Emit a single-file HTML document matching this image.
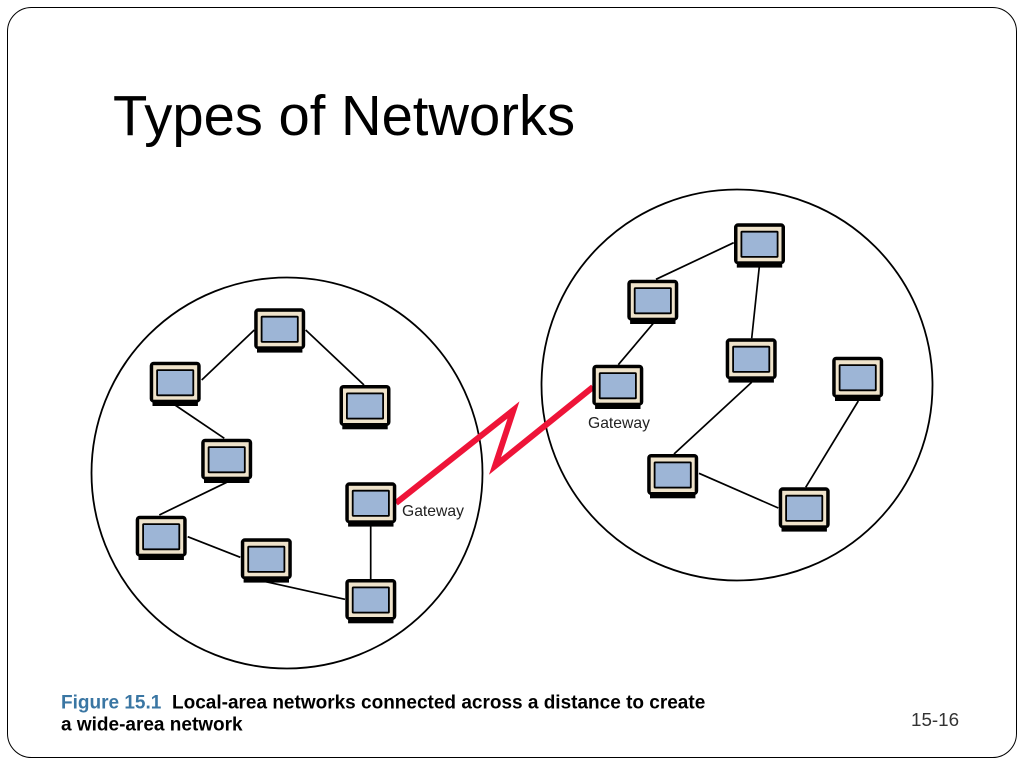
<!DOCTYPE html>
<html>
<head>
<meta charset="utf-8">
<style>
html,body{margin:0;padding:0;background:#fff}
body{width:1024px;height:768px;overflow:hidden}
svg{display:block}
text{font-family:"Liberation Sans",sans-serif}
</style>
</head>
<body>
<svg width="1024" height="768" viewBox="0 0 1024 768" xmlns="http://www.w3.org/2000/svg">
<defs>
<g id="pc">
<rect x="-22.7" y="14" width="45.4" height="9.3" fill="#000"/>
<rect x="-25.5" y="-21" width="51" height="41" rx="4" fill="#000"/>
<rect x="-22" y="-17.5" width="44" height="34.5" fill="#efe3cb"/>
<rect x="-19" y="-13.5" width="38" height="27" rx="1.5" fill="#000"/>
<rect x="-17.2" y="-11.7" width="34.4" height="23.4" fill="#9db5d6"/>
</g>
</defs>
<rect x="7.5" y="7.5" width="1009" height="750" rx="24" fill="#fff" stroke="#000" stroke-width="1"/>
<text x="113" y="135" font-size="56.2" fill="#000">Types of Networks</text>
<circle cx="287" cy="473" r="195.5" fill="none" stroke="#000" stroke-width="1.8"/>
<circle cx="737" cy="385" r="195.5" fill="none" stroke="#000" stroke-width="1.8"/>
<g stroke="#000" stroke-width="1.7" fill="none">
<line x1="201.7" y1="380" x2="254.3" y2="330"/>
<line x1="305.7" y1="330" x2="364" y2="385"/>
<line x1="175" y1="405" x2="224.3" y2="438.3"/>
<line x1="226.7" y1="482.3" x2="159.3" y2="515"/>
<line x1="187.7" y1="536.7" x2="240.3" y2="557.3"/>
<line x1="265.7" y1="581.7" x2="345" y2="599.3"/>
<line x1="370.7" y1="525" x2="370.7" y2="579"/>
<line x1="733.7" y1="242.7" x2="656" y2="279.3"/>
<line x1="759.3" y1="266.7" x2="751.7" y2="338.3"/>
<line x1="653.3" y1="323.3" x2="618.3" y2="364.7"/>
<line x1="751.7" y1="382.3" x2="674" y2="454"/>
<line x1="858.3" y1="401" x2="805.7" y2="487.3"/>
<line x1="699" y1="473.3" x2="778.3" y2="508"/>
</g>
<polyline points="396,503 513.5,410 495,466 593,387" fill="none" stroke="#ee1438" stroke-width="6" stroke-miterlimit="12"/>
<use href="#pc" x="279.7" y="329.3"/>
<use href="#pc" x="175.2" y="382.7"/>
<use href="#pc" x="365" y="406"/>
<use href="#pc" x="226.7" y="459.7"/>
<use href="#pc" x="370.8" y="503.3"/>
<use href="#pc" x="161.2" y="536.7"/>
<use href="#pc" x="266.3" y="559.3"/>
<use href="#pc" x="370.8" y="600"/>
<use href="#pc" x="759.5" y="244.3"/>
<use href="#pc" x="652.8" y="300.7"/>
<use href="#pc" x="617.8" y="385.7"/>
<use href="#pc" x="751.2" y="359.3"/>
<use href="#pc" x="857.7" y="377.7"/>
<use href="#pc" x="672.7" y="475"/>
<use href="#pc" x="804.2" y="508.3"/>
<text x="402" y="516" font-size="15.7" fill="#222">Gateway</text>
<text x="588" y="428" font-size="15.7" fill="#222">Gateway</text>
<text x="61" y="708.5" font-size="19" font-weight="bold" fill="#3a76a3">Figure 15.1</text>
<text x="172" y="708.5" font-size="19" font-weight="bold" fill="#000">Local-area networks connected across a distance to create</text>
<text x="61" y="730.5" font-size="19" font-weight="bold" fill="#000">a wide-area network</text>
<text x="911" y="726" font-size="18.8" fill="#333">15-16</text>
</svg>
</body>
</html>
